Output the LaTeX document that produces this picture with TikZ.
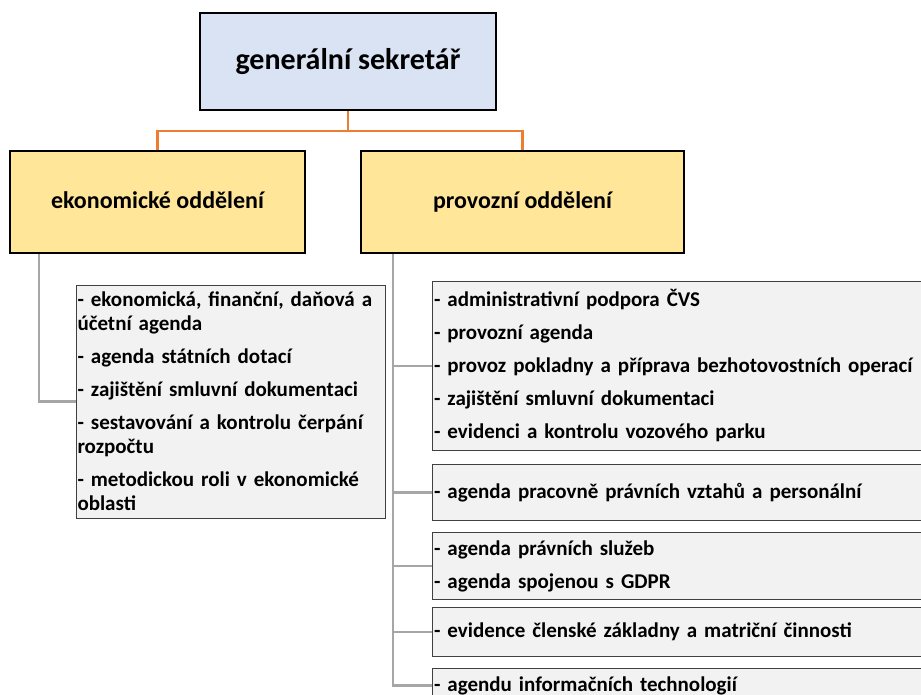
\documentclass[tikz,border=0pt]{standalone}
\usepackage{fontspec}
\setmainfont{Carlito}
\usetikzlibrary{positioning}
\definecolor{headblue}{HTML}{DAE3F3}
\definecolor{deptgold}{HTML}{FFE699}
\definecolor{listgray}{HTML}{F2F2F2}
\definecolor{edge}{HTML}{404040}
\definecolor{linkgray}{HTML}{A6A6A6}
\definecolor{linkorange}{HTML}{ED7D31}

\begin{document}
\begin{tikzpicture}[
  x=1pt, y=-1pt,
  font=\bfseries,
  head/.style={
    draw=black, line width=2pt, fill=headblue,
    minimum width=296pt, minimum height=97pt,
    text height=22pt, text depth=6pt,
    font=\bfseries\fontsize{30}{36}\selectfont
  },
  dept/.style={
    draw=black, line width=2pt, fill=deptgold, minimum height=102pt,
    text height=18pt, text depth=5pt,
    font=\bfseries\fontsize{24}{29}\selectfont
  },
  duty/.style={
    draw=edge, line width=1pt, fill=listgray, align=left,
    inner xsep=1.5pt, inner ysep=0pt,
    font=\bfseries\fontsize{21}{24}\selectfont
  },
  wide/.style={duty, text width=517pt},
  orgline/.style={draw=linkorange, line width=2.6pt},
  branch/.style={draw=linkgray, line width=2.6pt}
]
\useasboundingbox (0,0) rectangle (921,695);
\clip (0,0) rectangle (921,695);

\node[head] (gs) at (348,61.5) {generální sekretář};

\node[dept, minimum width=295pt] (eko) at (157.5,202) {ekonomické oddělení};
\node[dept, minimum width=323pt] (prov) at (522.5,202) {provozní oddělení};

\node[duty, text width=306pt, minimum height=233pt] (ekolist) at (230.5,401.5)
  {- ekonomická, finanční, daňová a\\účetní agenda\\[9pt]
   - agenda státních dotací\\[9pt]
   - zajištění smluvní dokumentaci\\[9pt]
   - sestavování a kontrolu čerpání\\rozpočtu\\[9pt]
   - metodickou roli v ekonomické\\oblasti};

\node[wide, minimum height=169pt, anchor=north west] (list1) at (432,281)
  {- administrativní podpora ČVS\\[9pt]
   - provozní agenda\\[9pt]
   - provoz pokladny a příprava bezhotovostních operací\\[9pt]
   - zajištění smluvní dokumentaci\\[9pt]
   - evidenci a kontrolu vozového parku};
\node[wide, minimum height=56pt, below=13pt of list1] (list2)
  {- agenda pracovně právních vztahů a personální};
\node[wide, minimum height=67pt, below=11pt of list2] (list3)
  {- agenda právních služeb\\[9pt]
   - agenda spojenou s GDPR};
\node[wide, minimum height=49pt, below=7pt of list3] (list4)
  {- evidence členské základny a matriční činnosti};
\node[wide, minimum height=34pt, below=11pt of list4] (list5)
  {- agendu informačních technologií};

% orange links from the top
\coordinate (fork) at ([yshift=-20pt]gs.south);
\draw[orgline] (gs.south) -- (fork) -| (eko.north);
\draw[orgline] (fork) -| (prov.north);

% grey links to the task lists
\coordinate (ekotrunk) at ([xshift=30pt]eko.south west);
\draw[branch] (ekotrunk) |- (ekolist.west);
\coordinate (provtrunk) at ([xshift=33pt]prov.south west);
\draw[branch] (provtrunk) |- (list5.west);
\foreach \n in {1,...,4}
  \draw[branch] (provtrunk |- list\n.west) -- (list\n.west);

\end{tikzpicture}
\end{document}
